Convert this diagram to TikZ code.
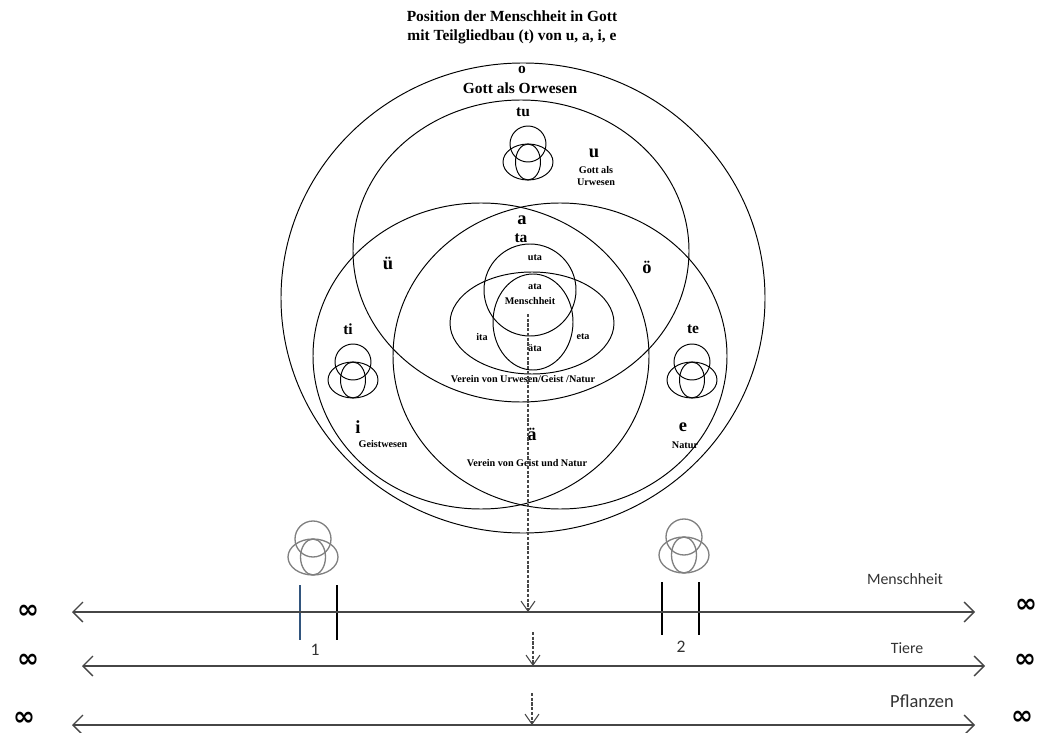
\documentclass[tikz,border=0pt]{standalone}
\usepackage{fontspec}
\setmainfont{Liberation Serif}
\newfontfamily\calfont{Carlito}
\newfontfamily\symfont{DejaVu Sans}
\usetikzlibrary{arrows.meta}
\definecolor{tickblue}{RGB}{50,85,125}
\definecolor{linegray}{RGB}{70,70,70}

\begin{document}
\begin{tikzpicture}[x=0.2mm, y=-0.2mm,
    ring/.style={draw=black, line width=0.55pt},
    ttl/.style={font=\fontsize{8.8}{10.8}\selectfont\bfseries, align=center, inner sep=0pt},
    lbl/.style={font=\fontsize{8.8}{10.6}\selectfont\bfseries, inner sep=0pt},
    big/.style={font=\fontsize{10.5}{12}\selectfont\bfseries, inner sep=0pt},
    tiny/.style={font=\fontsize{5.8}{6.8}\selectfont\bfseries, align=center, inner sep=0pt},
    lvl/.style={font=\calfont\fontsize{9}{11}\selectfont, text=black!80, inner sep=0pt},
    inf/.style={font=\symfont\bfseries\fontsize{15}{17}\selectfont, inner sep=0pt},
    axis/.style={draw=linegray, line width=0.75pt,
        {Straight Barb[length=2mm, width=4mm]}-{Straight Barb[length=2mm, width=4mm]}},
    drop/.style={draw=linegray, line width=0.6pt, dash pattern=on 1.8pt off 0.9pt,
        -{Straight Barb[length=2mm, width=2.8mm]}},
    tickln/.style={draw=black, line width=0.6pt},
    triad/.pic={
        \draw[pic actions] (0,0) circle[radius=18];
        \draw[pic actions] (0,18) ellipse[x radius=25, y radius=18];
        \draw[pic actions] (0,18) ellipse[x radius=12.5, y radius=18];
      },
  ]
  \path[fill=white, use as bounding box] (0,0) rectangle (1039,733);

  % ---- Title ----
  \node[ttl] (title) at (512,27) {Position der Menschheit in Gott\\mit Teilgliedbau (t) von u, a, i, e};

  % ---- Outer sphere o and the rings u, i, e ----
  \draw[ring] (523,298) ellipse[x radius=242, y radius=235]; % o
  \draw[ring] (521,251) ellipse[x radius=168, y radius=151]; % u
  \draw[ring] (481,356) ellipse[x radius=168, y radius=153]; % i
  \draw[ring] (560,356) ellipse[x radius=167, y radius=153]; % e

  % ---- Inner set around Menschheit ----
  \draw[ring] (530,290) circle[radius=46];
  \draw[ring] (532,323) ellipse[x radius=82, y radius=51];
  \draw[ring] (533,322) ellipse[x radius=40, y radius=48];

  % ---- Part sets tu, ti, te ----
  \pic[draw=black, line width=0.55pt] (tuSet) at (528,144) {triad};
  \pic[draw=black, line width=0.55pt] (tiSet) at (353,362) {triad};
  \pic[draw=black, line width=0.55pt] (teSet) at (692,362) {triad};

  % ---- Labels in the spheres ----
  \node[lbl] (oLab)   at (522,70)  {o};
  \node[lbl] (oName)  at (520,88)  {Gott als Orwesen};
  \node[lbl] (tuLab)  at (523,112) {tu};
  \node[big] (uLab)   at (594,153) {u};
  \node[tiny] (uName) at (596,176) {Gott als\\Urwesen};
  \node[big] (aLab)   at (522,220) {a};
  \node[lbl] (taLab)  at (521,238) {ta};
  \node[big] (ueLab)  at (388,263) {ü};
  \node[big] (oeLab)  at (647,267) {ö};
  \node[tiny] (utaLab) at (535,258) {uta};
  \node[tiny] (ataLab) at (535,287) {ata};
  \node[tiny] (mensch) at (530,301) {Menschheit};
  \node[tiny] (itaLab) at (482,337) {ita};
  \node[tiny] (etaLab) at (583,337) {eta};
  \node[tiny] (aetaLab) at (535,348) {äta};
  \node[tiny] (vereinA) at (523,379) {Verein von Urwesen/Geist /Natur};
  \node[lbl] (tiLab)  at (348,329) {ti};
  \node[lbl] (teLab)  at (693,329) {te};
  \node[big] (iLab)   at (358,427) {i};
  \node[tiny] (iName) at (383,444) {Geistwesen};
  \node[big] (eLab)   at (683,427) {e};
  \node[tiny] (eName) at (685,445) {Natur};
  \node[big] (aeLab)  at (532,434) {ä};
  \node[tiny] (vereinB) at (527,463) {Verein von Geist und Natur};

  % ---- Grey sets 1 and 2 with their marks ----
  \pic[draw=gray, line width=0.75pt] (leftSet) at (313,539) {triad};
  \pic[draw=gray, line width=0.75pt] (rightSet) at (684,537) {triad};
  \draw[tickln, tickblue] (300,585) -- (300,640);
  \draw[tickln] (337,585) -- (337,640);
  \draw[tickln] (662,582) -- (662,635);
  \draw[tickln] (699,582) -- (699,635);
  \node[lvl, font=\calfont\fontsize{10}{12}\selectfont] (one) at (315,650) {1};
  \node[lvl, font=\calfont\fontsize{10}{12}\selectfont] (two) at (681,647) {2};

  % ---- Levels: Menschheit, Tiere, Pflanzen ----
  \node[lvl] (menschLev) at (905,579) {Menschheit};
  \node[lvl] (tiereLev)  at (907,648) {Tiere};
  \node[lvl, font=\calfont\fontsize{10.5}{12}\selectfont] (pflLev) at (922,701) {Pflanzen};
  \node[inf] (infL1) at (28,612)   {∞};
  \node[inf] (infR1) at (1026,606) {∞};
  \node[inf] (infL2) at (28,661)   {∞};
  \node[inf] (infR2) at (1025,661) {∞};
  \node[inf] (infL3) at (24,719)   {∞};
  \node[inf] (infR3) at (1022,718) {∞};

  \coordinate (m1L) at (72,612);  \coordinate (m1R) at (975,612);
  \coordinate (m2L) at (82,666);  \coordinate (m2R) at (985,666);
  \coordinate (m3L) at (72,725);  \coordinate (m3R) at (975,725);
  \draw[axis] (m1L) -- (m1R);
  \draw[axis] (m2L) -- (m2R);
  \draw[axis] (m3L) -- (m3R);

  % ---- Dashed drops onto the levels ----
  \coordinate (core) at (528,314);
  \coordinate (hit1) at (528,612);
  \coordinate (top2) at (533,632);
  \coordinate (hit2) at (533,666);
  \coordinate (top3) at (532,693);
  \coordinate (hit3) at (532,725);
  \draw[drop] (core) -- (hit1);
  \draw[drop] (top2) -- (hit2);
  \draw[drop] (top3) -- (hit3);

\end{tikzpicture}
\end{document}
